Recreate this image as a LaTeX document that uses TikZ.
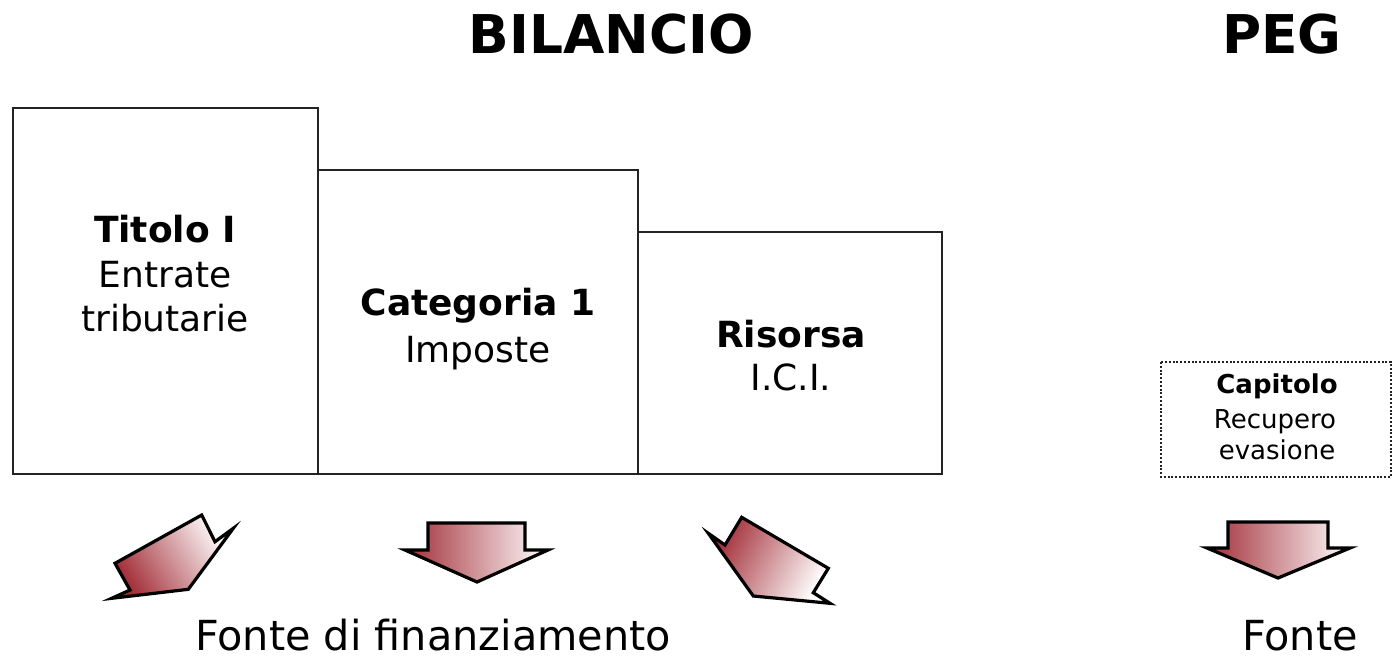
\documentclass[tikz,border=0pt]{standalone}
\usepackage{fontspec}
\setmainfont{DejaVu Sans}
\definecolor{arrowred}{RGB}{162,44,54}
\definecolor{boxline}{RGB}{35,35,35}
\tikzset{
  title/.style={font=\bfseries\fontsize{26.7}{32}\selectfont, anchor=base},
  level/.style={draw=boxline, line width=1pt},
  pegbox/.style={draw=boxline, line width=1.2pt, dash pattern=on 1pt off 0.9pt},
  head/.style={font=\bfseries\fontsize{18}{22}\selectfont, anchor=base},
  sub/.style={font=\fontsize{18}{22}\selectfont, anchor=base},
  smallhead/.style={font=\bfseries\fontsize{13}{15}\selectfont, anchor=base},
  smallsub/.style={font=\fontsize{13}{15}\selectfont, anchor=base},
  source/.style={font=\fontsize{20.7}{25}\selectfont, anchor=base},
  blockarrow/.style={draw=black, line width=1.6pt},
}
\begin{document}
\begin{tikzpicture}[x=0.5pt, y=-0.5pt]
  \useasboundingbox (0,0) rectangle (1392,661);
  % titles
  \node [title] (bilancio) at (611,53) {BILANCIO};
  \node [title] (peg) at (1282,53) {PEG};
  % levels of the budget
  \draw [level] (13,108) rectangle (318,474);
  \draw [level] (318,170) rectangle (638,474);
  \draw [level] (638,232) rectangle (942,474);
  \draw [pegbox] (1161,362) rectangle (1391,477);
  \node [head] (titolo) at (165,242) {Titolo I};
  \node [sub] (entrate) at (165,287) {Entrate};
  \node [sub] (tributarie) at (165,331) {tributarie};
  \node [head] (categoria) at (478,315) {Categoria 1};
  \node [sub] (imposte) at (478,362) {Imposte};
  \node [head] (risorsa) at (791,347) {Risorsa};
  \node [sub] (ici) at (791,390) {I.C.I.};
  \node [smallhead] (capitolo) at (1277,393) {Capitolo};
  \node [smallsub] (recupero) at (1275,428) {Recupero};
  \node [smallsub] (evasione) at (1277,459) {evasione};
  % arrows
  \path [blockarrow, top color=arrowred, bottom color=white, shading angle=121]
    (111.7,598.3) -- (130,590) -- (115,563.3) -- (201.7,515) -- (215,541.7)
    -- (233.3,528.3) -- (188.3,589.3) -- cycle;
  \path [blockarrow, left color=arrowred, right color=white]
    (428,523) -- (525,523) -- (525,550) -- (548,550) -- (477,582)
    -- (405,550) -- (428,550) -- cycle;
  \path [blockarrow, top color=arrowred, bottom color=white, shading angle=63]
    (708.3,533.3) -- (725,545) -- (741.7,517.3) -- (828.3,568.3) -- (813.3,592.7)
    -- (830,603.3) -- (753.3,596) -- cycle;
  \path [blockarrow, left color=arrowred, right color=white]
    (1228,522) -- (1328,522) -- (1328,548) -- (1350,548) -- (1278,578)
    -- (1207,548) -- (1228,548) -- cycle;
  % sources
  \node [source] (fonte) at (433,650) {Fonte di finanziamento};
  \node [source] (fontepeg) at (1300,650) {Fonte};
\end{tikzpicture}
\end{document}
